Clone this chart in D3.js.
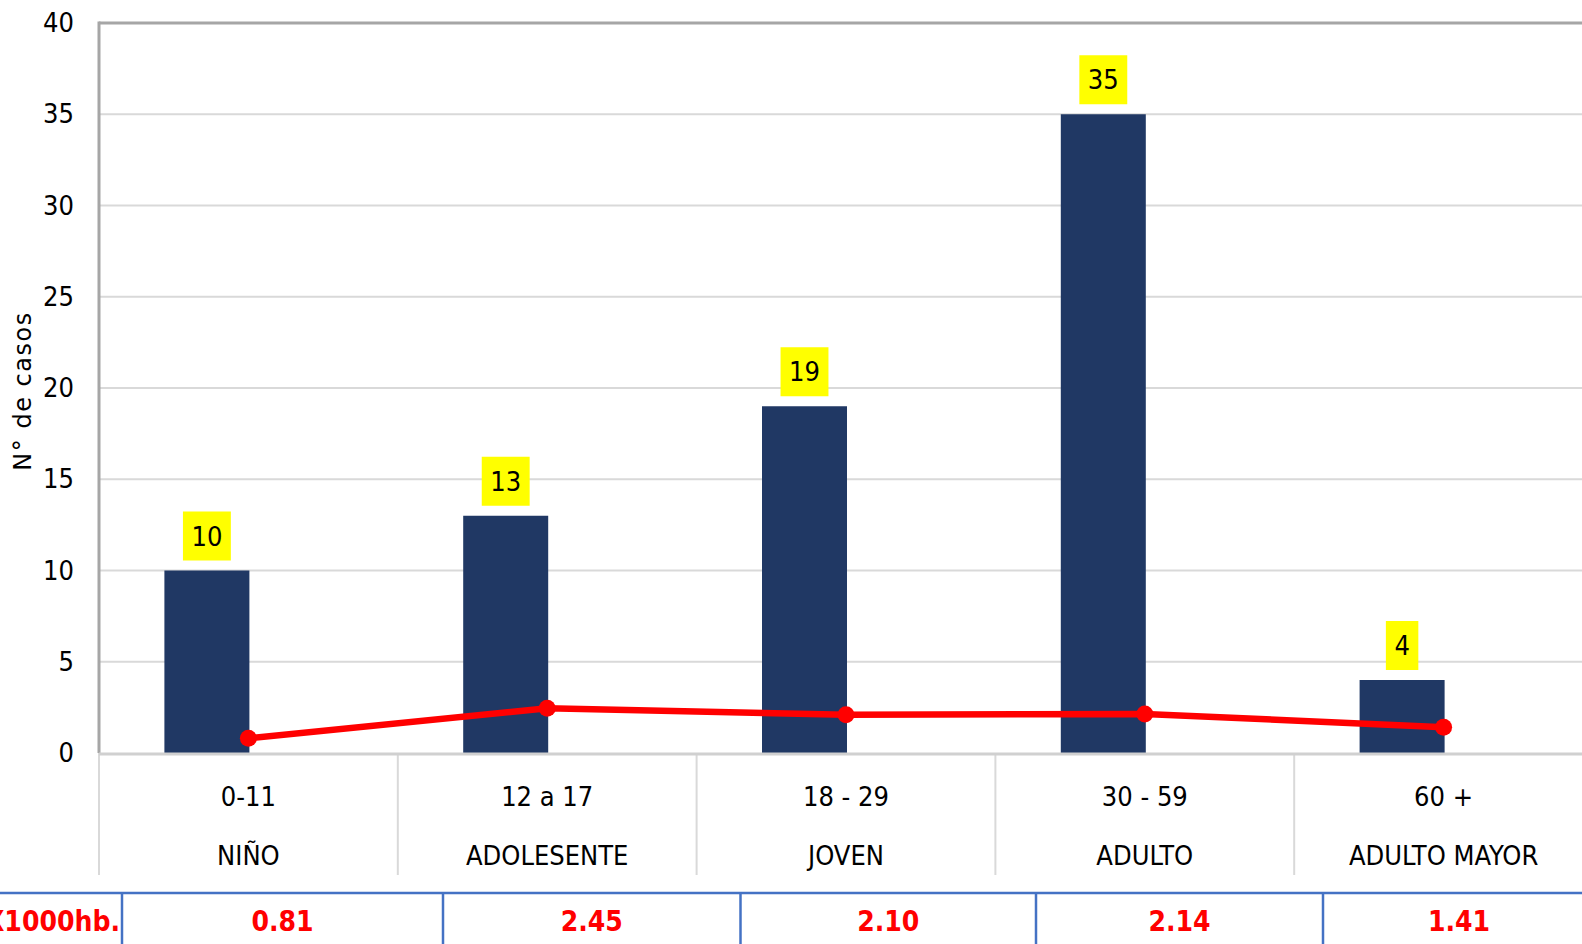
<!DOCTYPE html>
<html>
<head>
<meta charset="utf-8">
<script src="https://cdn.jsdelivr.net/npm/d3@7"></script>
<style>
  body { margin: 0; background: #fff; }
  text { font-family: "Liberation Sans Narrow", "DejaVu Sans Condensed", "Noto Sans", sans-serif; }
  .tick text, .catLabel, .dataLabel { font-size: 27px; fill: #000; }
  .yTitle { font-family: "DejaVu Sans", sans-serif !important; font-size: 24px; letter-spacing: 1.5px; }
  .tasa { font-weight: bold; font-size: 28px; fill: #ff0000; }
</style>
</head>
<body>
<div id="chart"></div>
<script>
// data
const rangos = ['0-11', '12 a 17', '18 - 29', '30 - 59', '60 +'];
const etapas = ['NIÑO', 'ADOLESENTE', 'JOVEN', 'ADULTO', 'ADULTO MAYOR'];
const casos = [10, 13, 19, 35, 4];
const tasa = [0.81, 2.45, 2.10, 2.14, 1.41];   // TIA x1000 hb.
const yTicks = [0, 5, 10, 15, 20, 25, 30, 35, 40];
const tablaLabel = 'X1000hb.';

const W = 1582, H = 944;
const margin = { top: 23, left: 99, bottom: 191 };
const bandW = 298.8;

const svg = d3.select('#chart').append('svg')
    .attr('width', W)
    .attr('height', H);

const x = d3.scaleBand()
    .domain(rangos)
    .range([margin.left, margin.left + bandW * rangos.length])
    .paddingInner(0).paddingOuter(0);

const y = d3.scaleLinear()
    .domain([0, 40])
    .range([H - margin.bottom, margin.top]);

const barW = 85;
const cx = d => x(d) + x.bandwidth() / 2;

// gridlines
svg.append('g')
    .selectAll('line')
    .data(yTicks.filter(t => t > 0 && t < 40))
    .enter()
    .append('line')
    .attr('x1', margin.left)
    .attr('x2', W)
    .attr('y1', d => y(d))
    .attr('y2', d => y(d))
    .style('stroke', '#d9d9d9')
    .style('stroke-width', 2);

// top border + left axis
svg.append('line')
    .attr('x1', margin.left).attr('x2', W)
    .attr('y1', y(40)).attr('y2', y(40))
    .style('stroke', '#a6a6a6').style('stroke-width', 3);
svg.append('line')
    .attr('x1', margin.left).attr('x2', margin.left)
    .attr('y1', y(40) - 1.5).attr('y2', y(0))
    .style('stroke', '#a6a6a6').style('stroke-width', 3);

// y axis labels
const yAxis = d3.axisLeft(y)
    .tickValues(yTicks)
    .tickSize(0)
    .tickPadding(0);

svg.append('g')
    .attr('class', 'axis yAxis')
    .attr('transform', `translate(${margin.left - 25}, 0)`)
    .call(yAxis)
    .call(g => g.select('.domain').remove())
    .selectAll('text')
    .style('font-size', '27px')
    .style('fill', '#000');

svg.append('text')
    .attr('class', 'yTitle')
    .attr('transform', `translate(31, ${y(20) + 3}) rotate(-90)`)
    .attr('text-anchor', 'middle')
    .text('N° de casos');

// category separators
const seps = rangos.map(d => x(d)).concat([x(rangos[rangos.length - 1]) + x.bandwidth()]);
svg.append('g')
    .selectAll('line')
    .data(seps)
    .enter()
    .append('line')
    .attr('x1', d => d).attr('x2', d => d)
    .attr('y1', y(0)).attr('y2', y(0) + 122)
    .style('stroke', '#d9d9d9')
    .style('stroke-width', 2);

// bars
svg.selectAll('rect.bar')
    .data(casos)
    .enter()
    .append('rect')
    .attr('class', 'bar')
    .attr('x', (d, i) => cx(rangos[i]) - barW + 1)
    .attr('width', barW)
    .attr('y', d => y(d))
    .attr('height', d => y(0) - y(d))
    .style('fill', '#203864');

// zero line
svg.append('line')
    .attr('x1', margin.left).attr('x2', W)
    .attr('y1', y(0) + 1).attr('y2', y(0) + 1)
    .style('stroke', '#d0d0d0').style('stroke-width', 3);

// data labels with yellow boxes
const lbl = svg.selectAll('g.dataLabel')
    .data(casos)
    .enter()
    .append('g')
    .attr('transform', (d, i) => `translate(${cx(rangos[i]) - barW / 2 + 1}, ${y(d) - 10})`);

lbl.append('rect')
    .style('fill', '#ffff00');

lbl.append('text')
    .attr('class', 'dataLabel')
    .attr('text-anchor', 'middle')
    .attr('y', -15)
    .text(d => d);

lbl.each(function () {
    const t = d3.select(this).select('text');
    const w = t.node().getComputedTextLength() + 17;
    d3.select(this).select('rect')
        .attr('x', -w / 2)
        .attr('width', w)
        .attr('y', -49)
        .attr('height', 49);
});

// rate line
const line = d3.line()
    .x((d, i) => cx(rangos[i]))
    .y(d => y(d));

svg.append('path')
    .datum(tasa)
    .attr('d', line)
    .style('fill', 'none')
    .style('stroke', '#ff0000')
    .style('stroke-width', 6.5);

svg.selectAll('circle.dot')
    .data(tasa)
    .enter()
    .append('circle')
    .attr('class', 'dot')
    .attr('cx', (d, i) => cx(rangos[i]))
    .attr('cy', d => y(d))
    .attr('r', 8.5)
    .style('fill', '#ff0000');

// category labels
svg.selectAll('text.rango')
    .data(rangos)
    .enter()
    .append('text')
    .attr('class', 'catLabel rango')
    .attr('x', d => cx(d))
    .attr('y', y(0) + 53)
    .attr('text-anchor', 'middle')
    .text(d => d);

svg.selectAll('text.etapa')
    .data(etapas)
    .enter()
    .append('text')
    .attr('class', 'catLabel etapa')
    .attr('x', (d, i) => cx(rangos[i]))
    .attr('y', y(0) + 112)
    .attr('text-anchor', 'middle')
    .text(d => d);

// table row below
const tableTop = 893;
const cellEdges = [122, 443, 740.5, 1036, 1323, 1595];
svg.append('line')
    .attr('x1', 0).attr('x2', W)
    .attr('y1', tableTop).attr('y2', tableTop)
    .style('stroke', '#4472c4').style('stroke-width', 2.5);

svg.append('g')
    .selectAll('line')
    .data(cellEdges.slice(0, 5))
    .enter()
    .append('line')
    .attr('x1', d => d).attr('x2', d => d)
    .attr('y1', tableTop).attr('y2', H)
    .style('stroke', '#4472c4').style('stroke-width', 2.5);

svg.append('text')
    .attr('class', 'tasa')
    .attr('x', cellEdges[0] - 2)
    .attr('y', 931)
    .attr('text-anchor', 'end')
    .text(tablaLabel);

svg.selectAll('text.tasaVal')
    .data(tasa)
    .enter()
    .append('text')
    .attr('class', 'tasa tasaVal')
    .attr('x', (d, i) => (cellEdges[i] + cellEdges[i + 1]) / 2)
    .attr('y', 931)
    .attr('text-anchor', 'middle')
    .text(d => d3.format('.2f')(d));
</script>
</body>
</html>
